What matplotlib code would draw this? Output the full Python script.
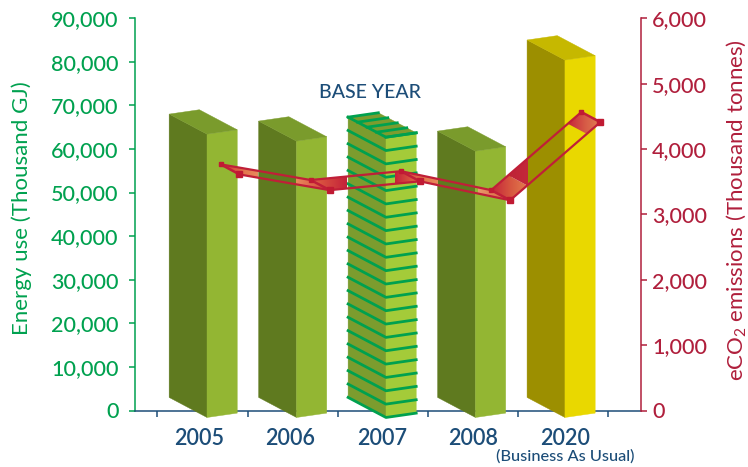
import numpy as np
import matplotlib
matplotlib.use("Agg")
import matplotlib.pyplot as plt
from matplotlib.colors import LinearSegmentedColormap
from matplotlib.path import Path
from matplotlib.patches import Polygon

plt.rcParams['font.family'] = ['Lato', 'DejaVu Sans']
plt.rcParams['font.weight'] = 'medium'
plt.rcParams['mathtext.default'] = 'regular'

years = ['2005', '2006', '2007', '2008', '2020']
energy_use = [65000, 63400, 64300, 61100, 82000]
emissions = [3610, 3370, 3505, 3215, 4410]
energy_ticks = [0, 10000, 20000, 30000, 40000, 50000, 60000, 70000, 80000, 90000]
emission_ticks = [0, 1000, 2000, 3000, 4000, 5000, 6000]

GREEN = '#00a14f'
CRIMSON = '#b01f3c'
NAVY = '#1c4d78'
RIBBON_RED = '#c01f38'

# face colours: side, front, top
olive = ('#5f7a1f', '#93b633', '#7a9b2c')
lime = ('#7c9c2e', '#a4cb39', '#7c9c2e')
gold = ('#9c8f00', '#e9d800', '#c6b800')
bar_colors = [olive, olive, lime, olive, gold]

W, H = 748, 467
LEFT, RIGHT, TOP, BOTTOM = 134.5, 641, 18.2, 410.5

fig = plt.figure(figsize=(W / 100, H / 100), dpi=100)
ax = fig.add_axes([LEFT / W, 1 - BOTTOM / H, (RIGHT - LEFT) / W, (BOTTOM - TOP) / H])
ax.set_xlim(-0.754, 4.861)
ax.set_ylim(0, 90000)
ax2 = ax.twinx()
ax2.set_ylim(0, 6000)

# 3D projection of the bars, in axis units
base = -1600
side_dx, side_dy = -0.42, 4600
front_dx, front_dy = 0.335, 1000


def draw_bar(i, value, colors):
    fx = 0.05 + i * 0.992
    top = base + value
    side = [(fx, base), (fx + side_dx, base + side_dy), (fx + side_dx, top + side_dy), (fx, top)]
    front = [(fx, base), (fx + front_dx, base + front_dy), (fx + front_dx, top + front_dy), (fx, top)]
    lid = [(fx, top), (fx + side_dx, top + side_dy),
           (fx + side_dx + front_dx, top + side_dy + front_dy), (fx + front_dx, top + front_dy)]
    for verts, c in zip((side, front, lid), colors):
        ax.add_patch(Polygon(verts, closed=True, facecolor=c, edgecolor=c, lw=0.3,
                             zorder=3, clip_on=False))
    return fx, top


for i, v in enumerate(energy_use):
    fx, top = draw_bar(i, v, bar_colors[i])
    if years[i] == '2007':
        # banded wrap round the base year column
        step = v / 21
        for k in range(22):
            h = base + k * step
            ax.plot([fx + side_dx, fx, fx + front_dx], [h + side_dy, h, h + front_dy],
                    color=GREEN, lw=2.0, zorder=4, clip_on=False, solid_capstyle='projecting')
        for t in np.linspace(0, 1, 5):
            sx = fx + side_dx * (1 - t)
            sy = top + side_dy * (1 - t)
            ax.plot([sx, sx + front_dx], [sy, sy + front_dy], color=GREEN, lw=2.0,
                    zorder=4, clip_on=False, solid_capstyle='projecting')

# emissions ribbon, front edge and back edge
x_front = np.arange(len(years)) + 0.41
y_front = np.array(emissions, dtype=float)
x_back = x_front - 0.21
y_back = y_front + 155
ribbon = Path(np.vstack([np.column_stack([x_back, y_back]),
                         np.column_stack([x_front, y_front])[::-1],
                         [[x_back[0], y_back[0]]]]))


def ribbon_quad(seg, t0, t1):
    # part of one ribbon segment between two cross cuts
    def at(xs, ys, t):
        return (xs[seg] + t * (xs[seg + 1] - xs[seg]), ys[seg] + t * (ys[seg + 1] - ys[seg]))
    return Path([at(x_back, y_back, t0), at(x_back, y_back, t1),
                 at(x_front, y_front, t1), at(x_front, y_front, t0),
                 at(x_back, y_back, t0)])


def shade(x0, x1, stops, clip):
    cmap = LinearSegmentedColormap.from_list('ribbon', stops)
    im = ax2.imshow(np.linspace(0, 1, 64).reshape(1, -1), cmap=cmap, aspect='auto',
                    extent=(x0, x1, 3000, 4800), zorder=5, interpolation='bilinear')
    im.set_clip_path(clip, transform=ax2.transData)


RED_TO_ORANGE = ['#c4223a', '#d8503f', '#e4774e', '#e88a5c']
shade(0.195, 0.616, RED_TO_ORANGE, ribbon)
shade(1.04, 1.60, ['#e88a5c', '#d8503f', '#c4223a'], ribbon)
shade(2.13, 2.60, RED_TO_ORANGE, ribbon)
shade(3.05, 3.41, ['#e89a6c', '#e07a50', '#d8603f'], ribbon)
shade(3.20, 3.62, ['#c4223a', '#d6553f', '#e4804f'], ribbon_quad(3, 0, 0.19))
shade(3.20, 3.61, ['#b81f33', '#c4283a'], ribbon_quad(3, 0.19, 0.8))
shade(4.04, 4.43, ['#c4223a', '#d65a46', '#e48555'], ribbon_quad(3, 0.85, 1))
ax2.set_xlim(ax.get_xlim())
ax2.set_ylim(0, 6000)

for xs, ys in ((x_front, y_front), (x_back, y_back)):
    ax2.plot(xs, ys, color=RIBBON_RED, lw=1.6, zorder=6)
ax2.plot(x_front, y_front, ls='none', marker='s', ms=4.2, color='#c01a33', zorder=7)
ax2.plot(x_back, y_back, ls='none', marker='s', ms=2.6, color='#c01a33', zorder=7)
for xf, yf, xb, yb in zip(x_front, y_front, x_back, y_back):
    ax2.plot([xf, xb], [yf, yb], color=RIBBON_RED, lw=1.8, zorder=6)

# axes
for a in (ax, ax2):
    for s in a.spines.values():
        s.set_visible(False)

ax.spines['left'].set_visible(True)
ax.spines['left'].set_color(GREEN)
ax.spines['left'].set_linewidth(1.1)
ax.spines['bottom'].set_visible(True)
ax.spines['bottom'].set_color(NAVY)
ax.spines['bottom'].set_linewidth(1.1)
ax2.spines['right'].set_visible(True)
ax2.spines['right'].set_color(CRIMSON)
ax2.spines['right'].set_linewidth(1.1)

ax.set_yticks(energy_ticks)
ax.set_yticklabels([f'{t:,}' for t in energy_ticks])
ax.tick_params(axis='y', colors=GREEN, labelsize=15.5, length=4.5, width=1.1, pad=7)
ax2.set_yticks(emission_ticks)
ax2.set_yticklabels([f'{t:,}' for t in emission_ticks])
ax2.tick_params(axis='y', colors=CRIMSON, labelsize=15.5, length=4.5, width=1.1, pad=3.5)

ax.set_xticks(np.arange(-0.5, 5))
ax.set_xticklabels([])
ax.tick_params(axis='x', colors=NAVY, length=4, width=1.1)
ax.set_xticks(-0.04 + 1.0144 * np.arange(len(years)), minor=True)
ax.set_xticklabels(years, minor=True, color=NAVY, fontsize=15.5, fontweight='semibold')
ax.tick_params(axis='x', which='minor', length=0, pad=12.4)

ax.set_ylabel('Energy use (Thousand GJ)', color=GREEN, fontsize=16)
ax.yaxis.set_label_coords(-0.203, 0.515)
ax2.set_ylabel('eCO$_2$ emissions (Thousand tonnes)', color=CRIMSON, fontsize=16)
ax2.yaxis.set_label_coords(1.165, 0.51)

ax.text(2 - 0.14, 73000, 'BASE YEAR', color=NAVY, fontsize=14, ha='center', va='center', zorder=8)
ax.text(4.02, -10500, '(Business As Usual)', color=NAVY, fontsize=11.8, ha='center', va='center',
        clip_on=False)

fig.savefig('out.png', dpi=100)
